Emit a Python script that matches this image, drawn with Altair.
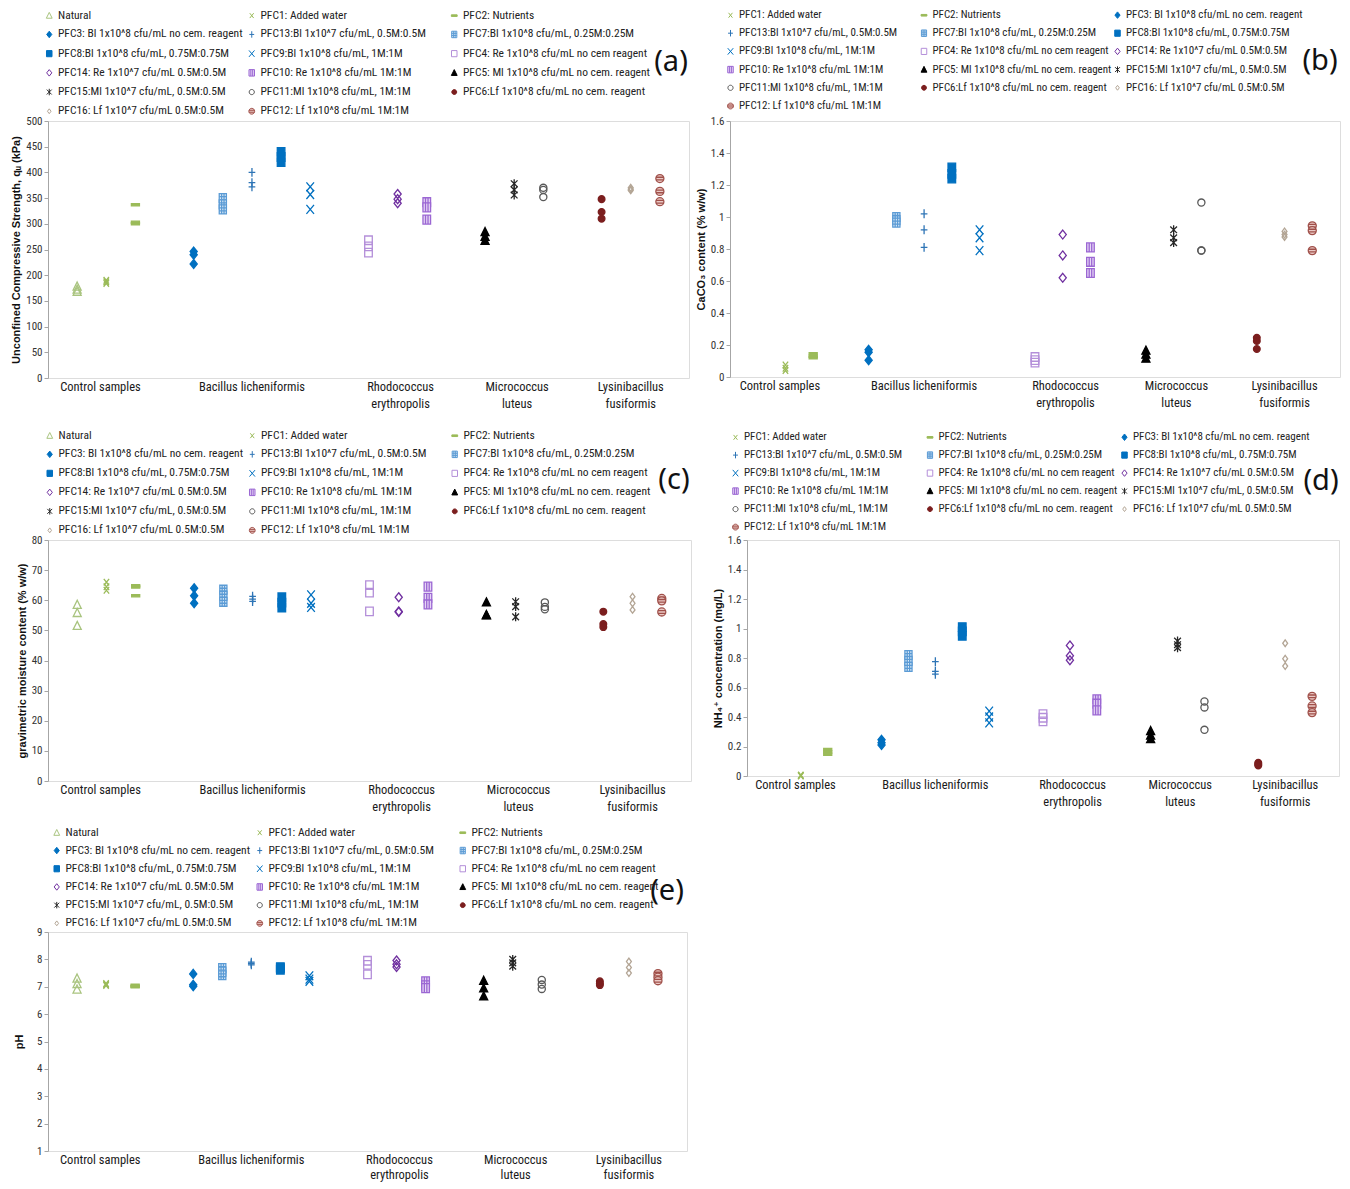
import altair as alt
import pandas as pd

NARROW = "Liberation Sans Narrow, Arial Narrow, Roboto Condensed, Roboto, sans-serif"
BOLD = "Liberation Sans, Arial, DejaVu Sans, sans-serif"

SERIES = ["Natural", "PFC1", "PFC2", "PFC3", "PFC13", "PFC7", "PFC8", "PFC9", "PFC4",
          "PFC14", "PFC10", "PFC5", "PFC15", "PFC11", "PFC6", "PFC16", "PFC12"]
LEGEND_LABELS = [
    "Natural", "PFC1: Added water", "PFC2: Nutrients",
    "PFC3: Bl 1x10^8 cfu/mL no cem. reagent", "PFC13:Bl 1x10^7 cfu/mL, 0.5M:0.5M",
    "PFC7:Bl 1x10^8 cfu/mL, 0.25M:0.25M", "PFC8:Bl 1x10^8 cfu/mL, 0.75M:0.75M",
    "PFC9:Bl 1x10^8 cfu/mL, 1M:1M", "PFC4: Re 1x10^8 cfu/mL no cem reagent",
    "PFC14: Re 1x10^7 cfu/mL 0.5M:0.5M", "PFC10: Re 1x10^8 cfu/mL 1M:1M",
    "PFC5: Ml 1x10^8 cfu/mL no cem. reagent", "PFC15:Ml 1x10^7 cfu/mL, 0.5M:0.5M",
    "PFC11:Ml 1x10^8 cfu/mL, 1M:1M", "PFC6:Lf 1x10^8 cfu/mL no cem. reagent",
    "PFC16: Lf 1x10^7 cfu/mL 0.5M:0.5M", "PFC12: Lf 1x10^8 cfu/mL 1M:1M"]
SLOTS = [1, 2, 3, 5, 7, 6, 8, 9, 11, 12, 13, 15, 16, 17, 19, 20, 21]

CATEGORY_NAMES = ["Control samples", "Bacillus licheniformis", "Rhodococcus\nerythropolis",
                  "Micrococcus\nluteus", "Lysinibacillus\nfusiformis"]
CATEGORY_POS = [1.8, 7.0, 12.1, 16.1, 20.0]

# replicate values per series (same order as SERIES)
UCS_KPA = [[178, 172, 168], [190, 187, 184], [337, 303, 300], [246, 240, 222],
           [400, 380, 372], [350, 338, 328], [440, 430, 420], [372, 357, 328],
           [268, 256, 244], [358, 348, 340], [342, 332, 308], [284, 275, 267],
           [378, 366, 356], [370, 366, 352], [348, 323, 310], [370, 367, 365],
           [388, 363, 343]]
CACO3 = [None, [0.075, 0.055, 0.04], [0.145, 0.13, 0.12], [0.17, 0.155, 0.105],
         [1.02, 0.92, 0.81], [1.0, 0.98, 0.965], [1.31, 1.27, 1.24], [0.92, 0.87, 0.79],
         [0.125, 0.105, 0.09], [0.89, 0.76, 0.62], [0.81, 0.72, 0.65], [0.165, 0.14, 0.115],
         [0.92, 0.87, 0.84], [1.09, 0.79, 0.79], [0.245, 0.225, 0.175], [0.91, 0.89, 0.875],
         [0.945, 0.915, 0.79]]
MOISTURE = [[58.5, 55.8, 51.5], [66, 64.5, 63.3], [64.8, 64.4, 61.5], [64, 61.5, 59],
            [61.3, 60.4, 59.6], [63.5, 61.5, 59.5], [61, 59.2, 57.6], [61.8, 59, 57.6],
            [65, 62.5, 56.3], [61, 56.3, 56.1], [64.5, 60.8, 58.6], [59.3, 55.1, 55.0],
            [59.5, 57.9, 54.5], [59.3, 57.8, 57.0], [56.2, 52.1, 51.1], [61.2, 59, 56.8],
            [60.6, 59.8, 56.1]]
NH4 = [None, [0.006, 0.003, 0.0], [0.18, 0.163, 0.147], [0.245, 0.225, 0.21],
       [0.775, 0.71, 0.69], [0.82, 0.78, 0.74], [1.01, 0.98, 0.95], [0.44, 0.40, 0.36],
       [0.42, 0.395, 0.37], [0.885, 0.815, 0.785], [0.52, 0.49, 0.445], [0.305, 0.275, 0.25],
       [0.915, 0.89, 0.87], [0.505, 0.465, 0.313], [0.09, 0.08, 0.072], [0.9, 0.795, 0.745],
       [0.54, 0.475, 0.43]]
PH = [[7.3, 7.1, 6.9], [7.12, 7.08, 7.05], [7.05, 7.02, 7.0], [7.47, 7.07, 7.02],
      [7.9, 7.85, 7.8], [7.68, 7.55, 7.42], [7.72, 7.68, 7.62], [7.4, 7.28, 7.2],
      [7.95, 7.8, 7.45], [7.96, 7.82, 7.72], [7.2, 7.05, 6.95], [7.22, 6.94, 6.65],
      [8.0, 7.87, 7.75], [7.25, 7.08, 6.92], [7.2, 7.12, 7.06], [7.92, 7.7, 7.5],
      [7.48, 7.35, 7.22]]

# marker styles
X_SMALL = "M-0.6,-0.75L0.6,0.75M0.6,-0.75L-0.6,0.75"
X_BIG = "M-0.85,-1L0.85,1M0.85,-1L-0.85,1"
DASH = "M-0.9,-0.25H0.9V0.25H-0.9Z"
DIAMOND = "M0,-1L0.8,0L0,1L-0.8,0Z"
PLUS = "M0,-1V1M-0.75,0H0.75"
GRID = "M-0.8,-1H0.8V1H-0.8Z M-0.27,-1V1 M0.27,-1V1 M-0.8,-0.33H0.8 M-0.8,0.33H0.8"
SQUARE = "M-0.85,-0.95H0.85V0.95H-0.85Z"
VSTRIPE = "M-0.85,-1H0.85V1H-0.85Z M-0.28,-1V1 M0.28,-1V1"
TRIANGLE = "M0,-1L0.9,0.8H-0.9Z"
STAR = "M-0.75,-0.75L0.75,0.75M0.75,-0.75L-0.75,0.75M0,-1V1"
CIRCLE = "M-0.8,0A0.8,0.8,0,1,1,0.8,0A0.8,0.8,0,1,1,-0.8,0Z"
DOT = "M-0.75,0A0.75,0.75,0,1,1,0.75,0A0.75,0.75,0,1,1,-0.75,0Z"
SMALL_DIAMOND = "M0,-0.75L0.55,0L0,0.75L-0.55,0Z"
HCIRCLE = "M-0.9,0A0.9,0.9,0,1,1,0.9,0A0.9,0.9,0,1,1,-0.9,0Z M-0.85,-0.3H0.85 M-0.85,0.3H0.85"

SHAPES = [TRIANGLE, X_SMALL, DASH, DIAMOND, PLUS, GRID, SQUARE, X_BIG, SQUARE,
          DIAMOND, VSTRIPE, TRIANGLE, STAR, CIRCLE, DOT, SMALL_DIAMOND, HCIRCLE]
FILLS = ["transparent", "transparent", "#9BBB59", "#0070C0", "transparent", "#DDEBF7",
         "#0070C0", "transparent", "transparent", "transparent", "#E6D6F5", "#000000",
         "transparent", "transparent", "#7B1E1E", "transparent", "#EBC9C5"]
STROKES = ["#A9C47F", "#9BBB59", "#9BBB59", "#0070C0", "#2E75B6", "#5B9BD5", "#0070C0",
           "#0070C0", "#B48FD9", "#7030A0", "#9B67D3", "#000000", "#262626", "#595959",
           "#7B1E1E", "#B3A595", "#A0504A"]


def panel(values, ytitle, ydom, yticks, w, h, letter, letter_xy, legend_xy,
          rowpad, colpad, title_pad, lfs, line_h=17):
    rows = []
    idx = [i for i, v in enumerate(values) if v is not None]
    for i in idx:
        for v in values[i]:
            rows.append({"series": LEGEND_LABELS[i], "x": SLOTS[i], "y": v})
    df = pd.DataFrame(rows)
    dom = [LEGEND_LABELS[i] for i in idx]
    leg = alt.Legend(title=None, orient="none", legendX=legend_xy[0], legendY=legend_xy[1],
                     columns=3, direction="horizontal", gridAlign="all", symbolSize=42,
                     symbolStrokeWidth=1, labelFont=NARROW, labelFontSize=lfs,
                     labelColor="#222222", rowPadding=rowpad, columnPadding=colpad,
                     padding=0, labelOffset=3, labelLimit=400)
    xs = alt.Scale(domain=[0, 22], nice=False, zero=False)
    pts = alt.Chart(df).mark_point(size=80, opacity=1, strokeWidth=1.3).encode(
        x=alt.X("x:Q", scale=xs, axis=None),
        y=alt.Y("y:Q", scale=alt.Scale(domain=ydom, nice=False, zero=False),
                axis=alt.Axis(values=yticks, format="~r", title=ytitle, grid=False,
                              domainColor="#a6a6a6", tickColor="#a6a6a6", tickSize=4,
                              labelFont=NARROW, labelFontSize=11, labelColor="#333333",
                              labelPadding=2, titleFont=BOLD, titleFontSize=11,
                              titleFontWeight="bold", titleColor="#111111",
                              titlePadding=title_pad)),
        shape=alt.Shape("series:N", scale=alt.Scale(domain=dom, range=[SHAPES[i] for i in idx]),
                        legend=leg),
        fill=alt.Fill("series:N", scale=alt.Scale(domain=dom, range=[FILLS[i] for i in idx]),
                      legend=leg),
        stroke=alt.Stroke("series:N", scale=alt.Scale(domain=dom, range=[STROKES[i] for i in idx]),
                          legend=leg),
    )
    cats = alt.Chart(pd.DataFrame({"x": CATEGORY_POS, "t": CATEGORY_NAMES})).mark_text(
        baseline="top", lineBreak="\n", lineHeight=line_h, font=NARROW, fontSize=12.5,
        color="#1a1a1a").encode(
        x=alt.X("x:Q", scale=xs, axis=None), y=alt.value(h + 3), text="t:N")
    let = alt.Chart(pd.DataFrame({"t": [letter]})).mark_text(
        font="Noto Sans, sans-serif", fontSize=29, align="center", baseline="middle",
        color="#111111").encode(x=alt.value(letter_xy[0]), y=alt.value(letter_xy[1]), text="t:N")
    return alt.layer(pts, cats, let).properties(width=w, height=h)


IND = dict(shape="independent", fill="independent", stroke="independent")


def indep(c):
    return c.resolve_scale(**IND).resolve_legend(**IND)


pa = panel(UCS_KPA, "Unconfined Compressive Strength, qᵤ (kPa)", [0, 500],
           list(range(0, 501, 50)), 641, 257, "(a)", (623, -59), (-4.5, -111.5), 6.2, 0.5, 4, 11.5)
pb = panel(CACO3, "CaCO₃ content (% w/w)", [0, 1.6], [round(i * 0.2, 1) for i in range(9)],
           610, 256, "(b)", (590, -60), (-5, -111.5), 6.2, 0.5, 4, 11)
pc = panel(MOISTURE, "gravimetric moisture content (% w/w)", [0, 80],
           list(range(0, 81, 10)), 643, 241, "(c)", (626, -60), (-4, -110.4), 6, 0.5, 4, 11.5)
pd_ = panel(NH4, "NH₄⁺ concentration (mg/L)", [0, 1.6], [round(i * 0.2, 1) for i in range(9)],
            592, 236, "(d)", (574, -59), (-17, -108.4), 6, 1.5, 4, 11)
pe = panel(PH, "pH", [1, 9], list(range(1, 10)), 639, 219, "(e)", (619, -41), (3, -105.4),
           5.2, 1, 12, 11.5, line_h=15)

row1 = indep(alt.hconcat(pa, pb, spacing=4))
row2 = indep(alt.hconcat(pc, pd_, spacing=19))
top = indep(alt.vconcat(row1, row2, spacing=18))

chart = indep(alt.vconcat(top, pe, spacing=12)).properties(
    padding={"left": 2, "top": 1, "right": 0, "bottom": 0}
).configure_view(
    stroke="#a6a6a6", strokeWidth=1.5
).configure(background="white")

chart.save("out.html", embed_options={"renderer": "svg", "actions": False})
